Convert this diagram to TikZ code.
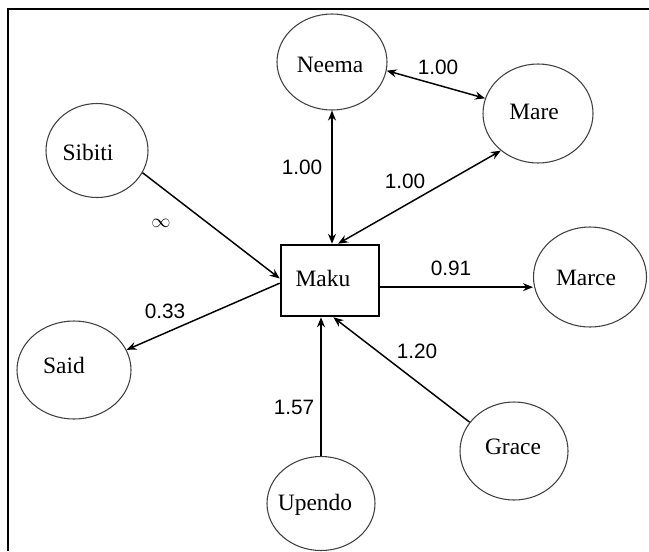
\documentclass[tikz,border=0pt]{standalone}
\usepackage{fontspec}
\setmainfont{Liberation Serif}
\newfontfamily\weightfont{Liberation Sans}
\usetikzlibrary{shapes.geometric,arrows.meta}

\tikzset{
  person/.style={draw=black!75, line width=0.8pt, ellipse, inner sep=0pt},
  personname/.style={font=\fontsize{17.6}{20}\selectfont, inner sep=0pt},
  hub/.style={draw=black, line width=1.9pt, rectangle, inner sep=0pt,
              minimum width=73.5pt, minimum height=53.25pt},
  weight/.style={font=\weightfont\fontsize{15.6}{18}\selectfont, inner sep=0pt},
  link/.style={line width=1.1pt, -{Stealth[length=7.5pt,width=6pt]}},
  twoway/.style={line width=1.1pt, {Stealth[length=7.5pt,width=6pt]}-{Stealth[length=7.5pt,width=6pt]}},
  outerframe/.style={line width=1.5pt}
}

\begin{document}
\begin{tikzpicture}[x=0.75pt,y=-0.75pt]
  \useasboundingbox (0,0) rectangle (649,551);

  % outer frame (left and top sides)
  \coordinate (fbl) at (7.5,551);
  \coordinate (ftl) at (7.5,9.3);
  \coordinate (ftr) at (649,9.3);
  \draw[outerframe] (fbl) -- (ftl) -- (ftr);

  % central person
  \node[hub] (Maku) at (330,280.5) {};
  \node[personname] (Maku-t) at (323,278) {Maku};

  % surrounding people
  \node[person, minimum width=82.5pt, minimum height=72pt] (Neema) at (332,62) {};
  \node[personname] (Neema-t) at (330,65) {Neema};

  \node[person, minimum width=82.5pt, minimum height=74.25pt] (Mare) at (538,113.5) {};
  \node[personname] (Mare-t) at (534,112) {Mare};

  \node[person, minimum width=76.5pt, minimum height=70.5pt] (Sibiti) at (97,150.5) {};
  \node[personname] (Sibiti-t) at (88,152) {Sibiti};

  \node[person, minimum width=84.75pt, minimum height=75pt] (Marce) at (590,277) {};
  \node[personname] (Marce-t) at (586,278) {Marce};

  \node[person, minimum width=85.5pt, minimum height=73.5pt] (Said) at (74,370) {};
  \node[personname] (Said-t) at (64,365) {Said};

  \node[person, minimum width=81pt, minimum height=73.5pt] (Grace) at (514,451) {};
  \node[personname] (Grace-t) at (513,447) {Grace};

  \node[person, minimum width=81pt, minimum height=70.5pt] (Upendo) at (321,503.5) {};
  \node[personname] (Upendo-t) at (315,505) {Upendo};

  % connections
  \draw[twoway] (Neema.south) -- (Neema.south |- Maku.north);
  \draw[twoway] (Neema.-9) -- (Mare.164);
  \draw[twoway] ([xshift=6pt]Maku.north) -- (Mare.225);
  \draw[link] (Sibiti.-26) -- ([yshift=1.5pt]Maku.west);
  \draw[link] ([yshift=-2pt]Maku.west) -- (Said.21);
  \draw[link] ([yshift=-5pt]Maku.east) -- ([yshift=-5pt]Maku.east -| Marce.west);
  \draw[link] (Grace.147) -- ([xshift=2.5pt]Maku.south);
  \draw[link] (Upendo.north) -- (Upendo.north |- Maku.south);

  % weights
  \node[weight] (w-nm) at (438,67) {1.00};
  \node[weight] (w-nk) at (302,167) {1.00};
  \node[weight] (w-km) at (405,181) {1.00};
  \node[weight] (w-sk) at (161,223) {$\infty$};
  \node[weight] (w-ks) at (165,311) {0.33};
  \node[weight] (w-kc) at (451,268) {0.91};
  \node[weight] (w-gk) at (417,351) {1.20};
  \node[weight] (w-uk) at (294,407) {1.57};
\end{tikzpicture}
\end{document}
